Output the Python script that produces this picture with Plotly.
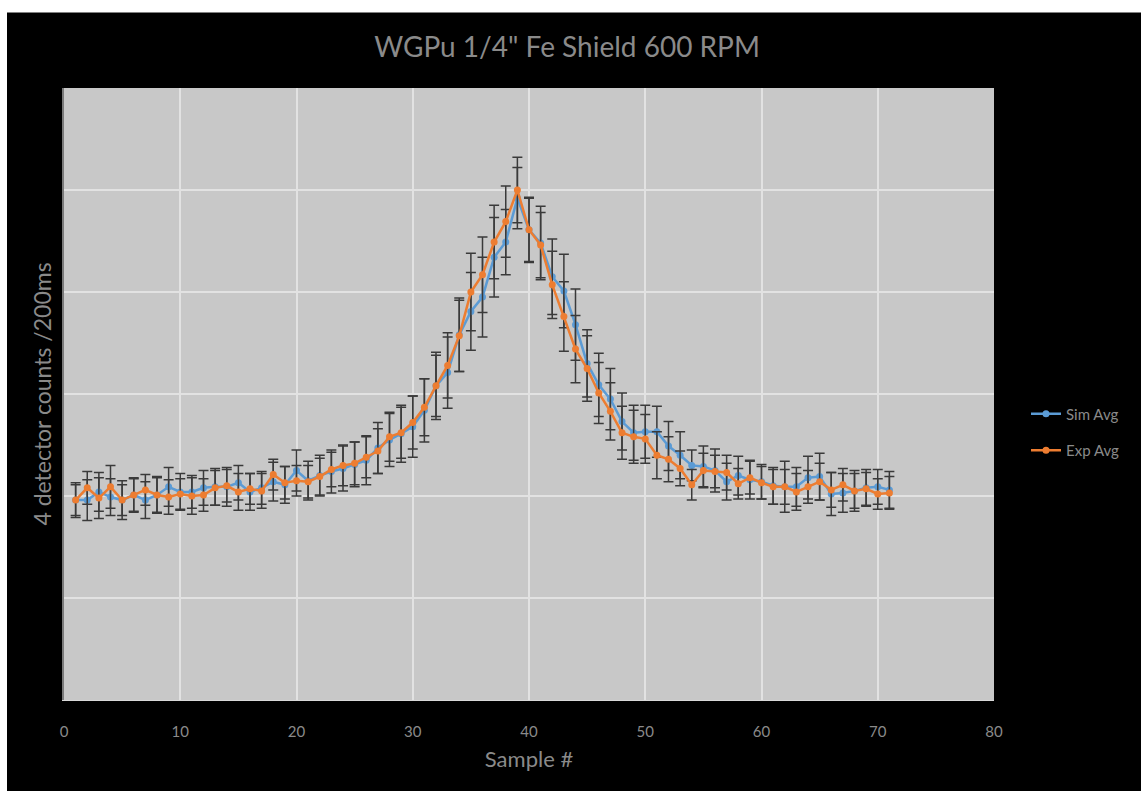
import plotly.graph_objects as go

samples = list(range(1, 72))

sim_avg = [19.6, 19.6, 20.4, 19.9, 19.6, 20.1, 19.6, 20.1, 20.9, 20.4,
           20.4, 20.8, 20.9, 20.9, 21.3, 20.4, 20.8, 21.4, 21.1, 22.5,
           21.5, 22.0, 22.4, 22.7, 23.1, 23.5, 24.7, 25.5, 26.1, 26.8,
           28.4, 30.8, 32.1, 35.8, 38.1, 39.5, 43.4, 44.9, 49.2, 46.1,
           44.8, 41.5, 40.1, 36.8, 33.0, 30.9, 29.5, 27.3, 26.2, 26.3,
           26.3, 24.9, 24.0, 23.0, 22.9, 22.5, 21.4, 22.0, 21.6, 21.4,
           21.0, 20.9, 20.9, 21.8, 21.9, 20.2, 20.3, 20.5, 20.8, 20.9, 20.6]

exp_avg = [19.6, 20.8, 19.8, 20.9, 19.6, 20.1, 20.6, 20.1, 19.9, 20.2,
           20.0, 20.1, 20.8, 21.0, 20.4, 20.7, 20.5, 22.1, 21.3, 21.5,
           21.4, 21.9, 22.6, 23.0, 23.2, 23.8, 24.4, 25.8, 26.2, 27.2,
           28.7, 30.8, 32.8, 35.7, 40.0, 41.7, 44.9, 46.9, 50.0, 46.1,
           44.6, 40.7, 37.6, 34.4, 32.5, 30.1, 28.3, 26.2, 25.8, 25.6,
           24.0, 23.6, 22.7, 21.1, 22.5, 22.4, 22.3, 21.2, 21.8, 21.3,
           20.9, 20.9, 20.4, 20.9, 21.4, 20.6, 21.1, 20.5, 20.7, 20.2, 20.3]

sim_err = [1.7, 2.0, 1.9, 1.8, 1.9, 1.6, 1.8, 1.7, 1.9, 1.8,
           1.6, 1.7, 1.8, 1.9, 1.7, 1.8, 1.6, 1.9, 1.8, 2.0,
           1.9, 2.0, 2.1, 2.2, 2.2, 2.4, 2.5, 2.6, 2.8, 3.0,
           3.1, 3.3, 3.5, 3.6, 3.8, 3.9, 3.9, 3.2, 3.0, 3.2,
           3.6, 3.7, 3.6, 3.5, 3.3, 3.1, 3.0, 2.8, 2.7, 2.6,
           2.5, 2.4, 2.3, 1.5, 2.0, 2.1, 1.8, 1.9, 1.9, 1.7,
           1.8, 2.5, 1.9, 2.1, 2.3, 2.1, 1.9, 2.0, 1.8, 1.7, 1.8]

exp_err = [1.5, 1.6, 2.0, 2.1, 1.5, 1.7, 1.5, 1.8, 1.7, 1.5,
           1.8, 1.6, 1.7, 1.6, 1.8, 1.5, 1.7, 1.5, 1.6, 1.5,
           1.6, 1.8, 1.7, 2.0, 2.1, 2.0, 2.2, 2.4, 2.5, 2.6,
           2.8, 3.0, 3.2, 3.5, 3.8, 3.7, 3.6, 3.5, 3.2, 3.1,
           3.2, 3.3, 3.4, 3.3, 3.2, 3.0, 2.8, 2.6, 2.6, 2.4,
           2.3, 2.2, 1.7, 1.5, 1.7, 1.6, 1.7, 1.5, 1.6, 1.6,
           1.7, 1.7, 1.8, 1.6, 1.8, 1.7, 1.6, 1.7, 1.6, 1.5, 1.6]

x_ticks = [0, 10, 20, 30, 40, 50, 60, 70, 80]

FONT = "Lato"
GRAY = "#8a8a8a"

fig = go.Figure()
fig.add_trace(go.Scatter(
    x=samples, y=sim_avg, name="Sim Avg", mode="lines+markers", legendgroup="sim",
    line=dict(color="#5B9BD5", width=2.5),
    marker=dict(color="#5B9BD5", size=7),
    error_y=dict(type="data", array=sim_err, color="#3a3a3a", thickness=1.5, width=5),
))
fig.add_trace(go.Scatter(
    x=samples, y=exp_avg, name="Exp Avg", mode="lines+markers", legendgroup="exp",
    line=dict(color="#ED7D31", width=2.5),
    marker=dict(color="#ED7D31", size=7),
    error_y=dict(type="data", array=exp_err, color="#3a3a3a", thickness=1.5, width=5),
))

L, R, T, B = 64, 147, 88, 91
W, H = 1141, 791
pw, ph = W - L - R, H - T - B

def px(x):
    return (x - L) / pw

def py(y):
    return (H - B - y) / ph

fig.update_layout(
    width=W, height=H,
    margin=dict(l=L, r=R, t=T, b=B, autoexpand=False),
    paper_bgcolor="black",
    plot_bgcolor="#c8c8c8",
    font=dict(family=FONT, color=GRAY),
    title=dict(text='WGPu 1/4" Fe Shield 600 RPM', x=0.497, xref="container",
               y=1 - 47 / H, yref="container", xanchor="center", yanchor="middle",
               font=dict(size=28, color=GRAY, family=FONT)),
    legend=dict(x=px(1026), y=py(432), xanchor="left", yanchor="middle",
                font=dict(size=15, color=GRAY, family=FONT), bgcolor="rgba(0,0,0,0)",
                tracegroupgap=14, itemwidth=30),
    showlegend=True,
    shapes=[
        dict(type="rect", xref="paper", yref="paper", x0=px(0), x1=px(W + 5),
             y0=py(-5), y1=py(12.5), fillcolor="white", line=dict(width=0), layer="above"),
        dict(type="rect", xref="paper", yref="paper", x0=px(-5), x1=px(7),
             y0=py(H + 5), y1=py(-5), fillcolor="white", line=dict(width=0), layer="above"),
    ],
)

fig.update_xaxes(
    range=[0, 80], tickvals=x_ticks, ticktext=[str(t) for t in x_ticks],
    showgrid=True, gridcolor="#e2e2e2", gridwidth=2,
    zeroline=False, showline=True, linecolor="#d9d9d9", linewidth=1,
    ticks="", ticklabelstandoff=18,
    tickfont=dict(size=15, color=GRAY, family=FONT),
    title=dict(text="Sample #", font=dict(size=22, color=GRAY, family=FONT), standoff=12),
)
fig.update_yaxes(
    range=[0, 60], dtick=10, showticklabels=False,
    showgrid=True, gridcolor="#e2e2e2", gridwidth=2,
    zeroline=False, showline=True, linecolor="#7a7a7a", linewidth=2,
    ticks="",
    title=dict(text="4 detector counts /200ms", font=dict(size=23, color=GRAY, family=FONT), standoff=4),
)

fig.write_html("out.html")
